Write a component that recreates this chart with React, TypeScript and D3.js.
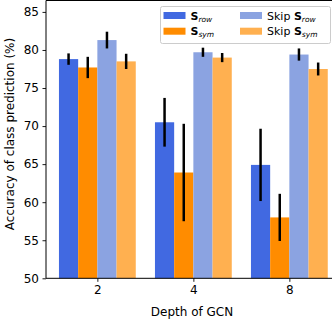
import React, { useEffect, useRef } from "react";
import * as d3 from "d3";

// depth of the GCN (x categories)
const depths = ["2", "4", "8"];

// mean accuracy and error half-width, one array per series
const sRow = [78.8, 70.5, 64.9];
const sRowErr = [0.75, 3.2, 4.75];
const sSym = [77.7, 63.9, 58.0];
const sSymErr = [1.4, 6.4, 3.1];
const skipRow = [81.3, 79.7, 79.4];
const skipRowErr = [1.1, 0.6, 0.8];
const skipSym = [78.5, 79.0, 77.5];
const skipSymErr = [1.0, 0.6, 0.85];

const yTicks = [50, 55, 60, 65, 70, 75, 80, 85];

const series = [
  { sub: "row", skip: false, vals: sRow, err: sRowErr, color: "#4169e1" },
  { sub: "sym", skip: false, vals: sSym, err: sSymErr, color: "#ff8c00" },
  { sub: "row", skip: true, vals: skipRow, err: skipRowErr, color: "#8ba3e1" },
  { sub: "sym", skip: true, vals: skipSym, err: skipSymErr, color: "#ffb050" },
];

const W = 332, H = 320;
const font = "DejaVu Sans, sans-serif";

export default function App() {
  const ref = useRef<SVGSVGElement>(null);

  useEffect(() => {
    const svg = d3.select(ref.current);
    svg.selectAll("*").remove();

    const left = 46, bottom = 278.3, top = 0.5;
    const unit = 96;
    const x = d3.scaleLinear().domain([-0.535, 2.535]).range([left, left + 3.07 * unit]);
    const y = d3.scaleLinear().domain([50, 86.5]).range([bottom, top]);
    const bw = 0.2;

    const g = svg.append("g");

    series.forEach((s, si) => {
      const off = (si - 1.5) * bw;
      g.selectAll(null)
        .data(s.vals)
        .enter()
        .append("rect")
        .attr("x", (d, i) => x(i + off - bw / 2))
        .attr("width", x(bw) - x(0))
        .attr("y", (d) => y(d))
        .attr("height", (d) => y(50) - y(d))
        .attr("fill", s.color);
    });

    series.forEach((s, si) => {
      const off = (si - 1.5) * bw;
      g.selectAll(null)
        .data(s.vals)
        .enter()
        .append("line")
        .attr("x1", (d, i) => x(i + off))
        .attr("x2", (d, i) => x(i + off))
        .attr("y1", (d, i) => y(d - s.err[i]))
        .attr("y2", (d, i) => y(d + s.err[i]))
        .attr("stroke", "black")
        .attr("stroke-width", 2.5);
    });

    // axes
    const yAxis = g.append("g")
      .attr("transform", `translate(${left},0)`)
      .call(d3.axisLeft(y).tickValues(yTicks).tickSize(3.5).tickPadding(3.5));
    const xAxis = g.append("g")
      .attr("transform", `translate(0,${bottom})`)
      .call(d3.axisBottom(x).tickValues([0, 1, 2]).tickFormat((d) => depths[d as number]).tickSize(3.5).tickPadding(3.5));
    [yAxis, xAxis].forEach((a) => {
      a.select(".domain").remove();
      a.selectAll("text").attr("font-family", font).attr("font-size", 12).attr("fill", "black");
      a.selectAll("line").attr("stroke", "black").attr("stroke-width", 0.9);
    });

    g.append("line").attr("x1", left).attr("x2", left).attr("y1", top).attr("y2", bottom)
      .attr("stroke", "black").attr("stroke-width", 1);
    g.append("line").attr("x1", left).attr("x2", W).attr("y1", bottom).attr("y2", bottom)
      .attr("stroke", "black").attr("stroke-width", 1);
    g.append("line").attr("x1", left).attr("x2", W).attr("y1", top).attr("y2", top)
      .attr("stroke", "black").attr("stroke-width", 1);

    // labels
    g.append("text")
      .attr("transform", `translate(14,134) rotate(-90)`)
      .attr("text-anchor", "middle")
      .attr("font-family", font).attr("font-size", 12)
      .text("Accuracy of class prediction (%)");
    g.append("text")
      .attr("x", 192).attr("y", 316)
      .attr("text-anchor", "middle")
      .attr("font-family", font).attr("font-size", 12)
      .text("Depth of GCN");

    // legend
    const lg = g.append("g");
    lg.append("rect")
      .attr("x", 160.5).attr("y", 6.5).attr("width", 170).attr("height", 37)
      .attr("rx", 2).attr("fill", "white").attr("fill-opacity", 0.8)
      .attr("stroke", "#cccccc").attr("stroke-width", 1);
    series.forEach((s, si) => {
      const col = si < 2 ? 0 : 1;
      const row = si % 2;
      const px = col === 0 ? 163.5 : 240;
      const cy = 15.5 + row * 15.7;
      lg.append("rect")
        .attr("x", px).attr("y", cy - 3.5).attr("width", 22).attr("height", 7)
        .attr("fill", s.color);
      const t = lg.append("text")
        .attr("x", px + 27).attr("y", cy + 4)
        .attr("font-family", font).attr("font-size", 11);
      if (s.skip) t.append("tspan").text("Skip ");
      t.append("tspan").attr("font-weight", "bold").text("S");
      t.append("tspan").attr("font-style", "italic").attr("font-size", 7.5).attr("dy", 2).text(s.sub);
    });
  }, []);

  return (
    <svg ref={ref} width={W} height={H}
      style={{ position: "absolute", left: 0, top: 0, background: "white" }} />
  );
}
